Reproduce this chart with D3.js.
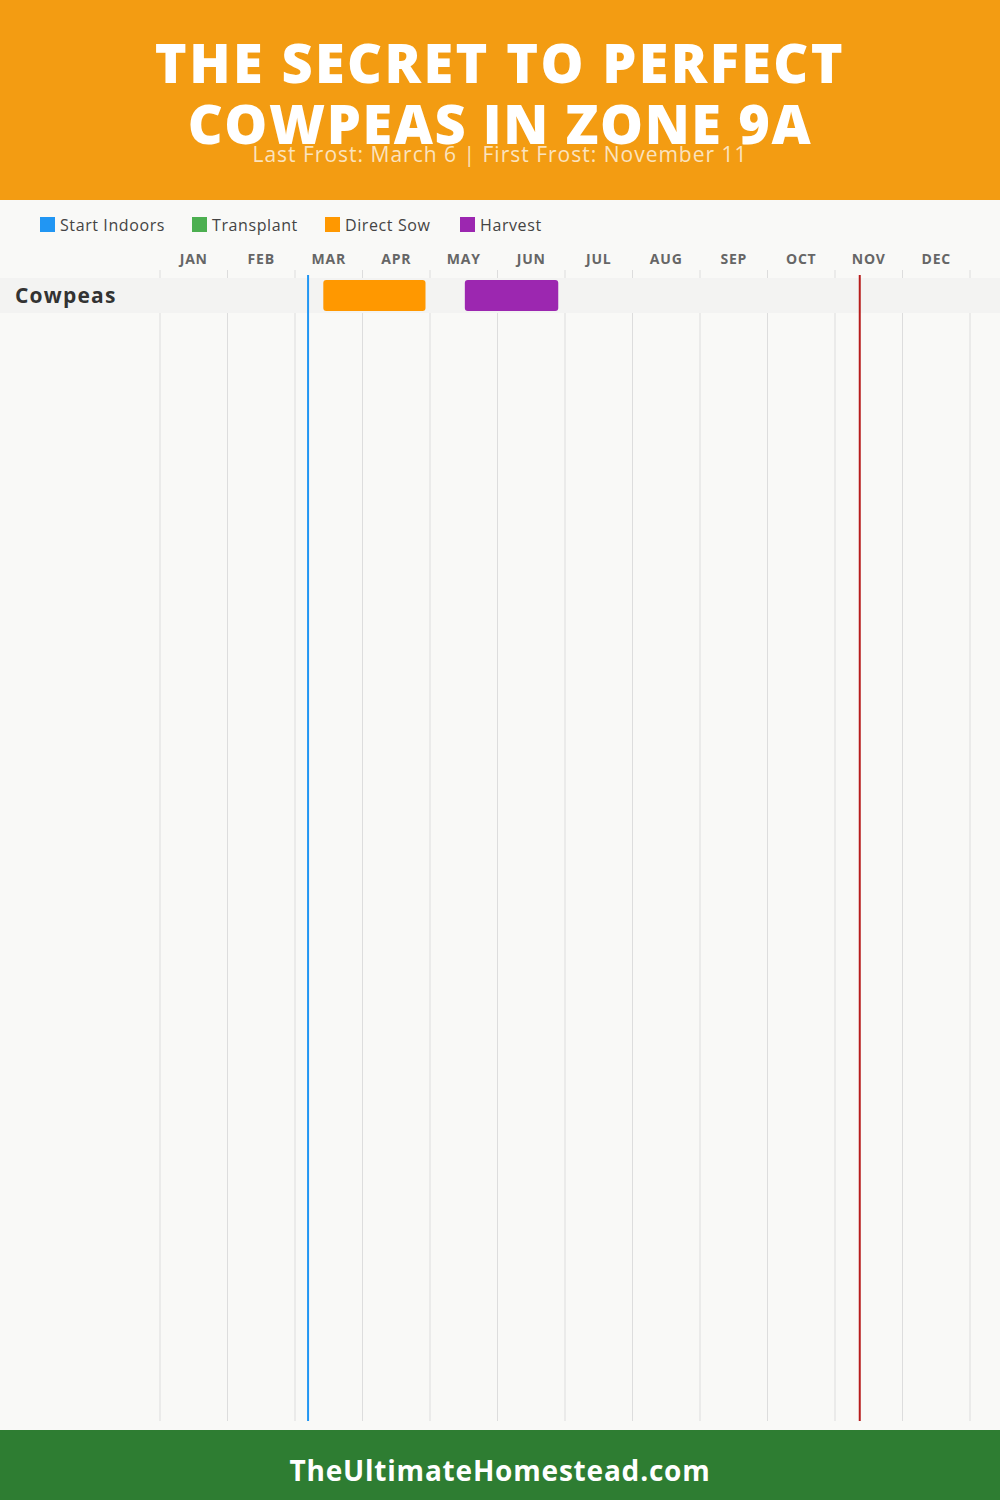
<!DOCTYPE html>
<html>
<head>
<meta charset="utf-8">
<script src="https://cdn.jsdelivr.net/npm/d3@7/dist/d3.min.js"></script>
<style>
  html, body { margin: 0; padding: 0; background: #F9F9F7; }
  svg { display: block; }
</style>
</head>
<body>
<svg id="chart" width="1000" height="1500"></svg>
<script>
// ---- Data ----
const titleLines = ["THE SECRET TO PERFECT", "COWPEAS IN ZONE 9A"];
const subtitle = "Last Frost: March 6 | First Frost: November 11";
const footerText = "TheUltimateHomestead.com";
const months = ["JAN","FEB","MAR","APR","MAY","JUN","JUL","AUG","SEP","OCT","NOV","DEC"];
const daysInMonth = [31,28,31,30,31,30,31,31,30,31,30,31];
const legendNames = ["Start Indoors","Transplant","Direct Sow","Harvest"];
const legendColors = ["#2196F3","#4CAF50","#FF9800","#9C27B0"];
const crops = ["Cowpeas"];
// periods: [crop, type, startMonth, startDay, endMonth, endDay] (months 1-based)
const periods = [
  ["Cowpeas", "Direct Sow", 3, 13, 4, 28],
  ["Cowpeas", "Harvest", 5, 16, 6, 27]
];
const lastFrost = [3, 6];
const firstFrost = [11, 11];

// ---- Setup ----
const W = 1000, H = 1500;
const svg = d3.select("#chart");
const font = "'Open Sans', 'Noto Sans', sans-serif";

svg.append("rect").attr("width", W).attr("height", H).attr("fill", "#F9F9F7");

// Header
svg.append("rect").attr("x", 0).attr("y", 0).attr("width", W).attr("height", 200).attr("fill", "#F39C12");
const titleSpacing = [2.4, 1.6];
svg.selectAll("text.title").data(titleLines).enter().append("text")
  .attr("class", "title")
  .attr("x", W / 2).attr("y", (d, i) => 83 + i * 61)
  .attr("text-anchor", "middle")
  .attr("font-family", font).attr("font-weight", 800).attr("font-size", 54)
  .attr("letter-spacing", (d, i) => titleSpacing[i])
  .attr("fill", "#FFFFFF")
  .text(d => d);
svg.append("text")
  .attr("x", W / 2).attr("y", 162)
  .attr("text-anchor", "middle")
  .attr("font-family", font).attr("font-weight", 400).attr("font-size", 21)
  .attr("letter-spacing", 1.0)
  .attr("fill", "#FBE3BE")
  .text(subtitle);

// Scale: month position
const x = d3.scaleLinear().domain([0, 12]).range([160, 970]);
const pos = (m, d) => x((m - 1) + d / daysInMonth[m - 1]);

// Legend
const legendX = [40, 192, 325, 460];
const lg = svg.selectAll("g.legend").data(legendNames).enter().append("g")
  .attr("class", "legend")
  .attr("transform", (d, i) => `translate(${legendX[i]},217)`);
lg.append("rect").attr("width", 15).attr("height", 15).attr("fill", (d, i) => legendColors[i]);
lg.append("text").attr("x", 20).attr("y", 13.5)
  .attr("font-family", font).attr("font-size", 16).attr("letter-spacing", 0.6).attr("fill", "#444")
  .text(d => d);

// Month labels
svg.selectAll("text.month").data(months).enter().append("text")
  .attr("class", "month")
  .attr("x", (d, i) => x(i + 0.5)).attr("y", 264)
  .attr("text-anchor", "middle")
  .attr("font-family", font).attr("font-weight", 700).attr("font-size", 14)
  .attr("letter-spacing", 0.8)
  .attr("fill", "#666")
  .text(d => d);

// Grid lines
svg.selectAll("line.grid").data(d3.range(13)).enter().append("line")
  .attr("class", "grid")
  .attr("x1", d => x(d)).attr("x2", d => x(d))
  .attr("y1", 270).attr("y2", 1421)
  .attr("stroke", "#DDDDDD").attr("stroke-width", 1);

// Rows
const rowY = d3.scaleBand().domain(crops).range([278, 278 + 35 * crops.length]);
svg.selectAll("rect.row").data(crops).enter().append("rect")
  .attr("class", "row")
  .attr("x", 0).attr("width", W)
  .attr("y", d => rowY(d)).attr("height", rowY.bandwidth())
  .attr("fill", "#F3F3F2");
svg.selectAll("text.crop").data(crops).enter().append("text")
  .attr("class", "crop")
  .attr("x", 15).attr("y", d => rowY(d) + 25)
  .attr("font-family", font).attr("font-weight", 700).attr("font-size", 21)
  .attr("letter-spacing", 1.2)
  .attr("fill", "#333")
  .text(d => d);

// Bars
const colorOf = d3.scaleOrdinal().domain(legendNames).range(legendColors);
svg.selectAll("rect.bar").data(periods).enter().append("rect")
  .attr("class", "bar")
  .attr("x", d => pos(d[2], d[3]))
  .attr("width", d => pos(d[4], d[5]) - pos(d[2], d[3]))
  .attr("y", d => rowY(d[0]) + 2).attr("height", rowY.bandwidth() - 4)
  .attr("rx", 3)
  .attr("fill", d => colorOf(d[1]));

// Frost lines
svg.append("line")
  .attr("x1", pos(lastFrost[0], lastFrost[1])).attr("x2", pos(lastFrost[0], lastFrost[1]))
  .attr("y1", 275).attr("y2", 1421)
  .attr("stroke", "#2196F3").attr("stroke-width", 2);
svg.append("line")
  .attr("x1", pos(firstFrost[0], firstFrost[1])).attr("x2", pos(firstFrost[0], firstFrost[1]))
  .attr("y1", 275).attr("y2", 1421)
  .attr("stroke", "#B71C1C").attr("stroke-width", 2);

// Footer
svg.append("rect").attr("x", 0).attr("y", 1430).attr("width", W).attr("height", 70).attr("fill", "#2E7D32");
svg.append("text")
  .attr("x", W / 2).attr("y", 1481)
  .attr("text-anchor", "middle")
  .attr("font-family", font).attr("font-weight", 700).attr("font-size", 28)
  .attr("letter-spacing", 0.8)
  .attr("fill", "#FFFFFF")
  .text(footerText);
</script>
</body>
</html>
